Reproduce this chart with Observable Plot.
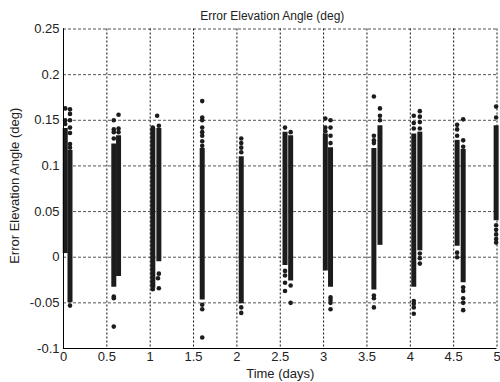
<!DOCTYPE html>
<html>
<head>
<meta charset="utf-8">
<script src="https://cdn.jsdelivr.net/npm/d3@7"></script>
<script src="https://cdn.jsdelivr.net/npm/@observablehq/plot@0.6"></script>
<style>
  html, body { margin: 0; padding: 0; background: #fff; }
  #chart svg { display: block; }
</style>
</head>
<body>
<div id="chart"></div>
<script>
// ---- Data ----
const titleText = "Error Elevation Angle (deg)";
const xLabelText = "Time (days)";
const yLabelText = "Error Elevation Angle (deg)";

const xTicks = [0, 0.5, 1, 1.5, 2, 2.5, 3, 3.5, 4, 4.5, 5];
const xTickLabels = ["0", "0.5", "1", "1.5", "2", "2.5", "3", "3.5", "4", "4.5", "5"];
const yTicks = [-0.1, -0.05, 0, 0.05, 0.1, 0.15, 0.2, 0.25];
const yTickLabels = ["-0.1", "-0.05", "0", "0.05", "0.1", "0.15", "0.2", "0.25"];

// dense columns of samples: time position, lowest and highest value of the solid run
const colX  = [0.02, 0.075, 0.58, 0.635, 1.03, 1.10, 1.60, 2.05, 2.555, 2.62, 3.02, 3.08, 3.58, 3.65, 4.04, 4.11, 4.54, 4.61, 4.99];
const colLo = [0.004, -0.050, -0.033, -0.021, -0.034, -0.005, -0.047, -0.051, -0.009, -0.026, -0.015, -0.033, -0.036, 0.013, -0.033, 0.007, 0.012, -0.028, 0.040];
const colHi = [0.141, 0.117, 0.124, 0.133, 0.141, 0.141, 0.119, 0.110, 0.137, 0.133, 0.135, 0.120, 0.119, 0.144, 0.135, 0.137, 0.128, 0.118, 0.144];

// isolated samples outside the solid runs
const outX = [
  0.02, 0.02, 0.02,
  0.075, 0.075, 0.075, 0.075, 0.075, 0.075, 0.075, 0.075,
  0.58, 0.58, 0.58, 0.58, 0.58, 0.58, 0.58,
  0.635, 0.635, 0.635,
  1.08, 1.03, 1.10, 1.10, 1.09, 1.10, 1.03,
  1.60, 1.60, 1.60, 1.60, 1.60, 1.60, 1.60, 1.60, 1.60, 1.60, 1.60,
  2.05, 2.05, 2.05, 2.05, 2.05, 2.05,
  2.555, 2.555, 2.555, 2.555, 2.555,
  2.62, 2.62, 2.62,
  3.02, 3.02, 3.02,
  3.08, 3.08, 3.08, 3.08, 3.08, 3.08, 3.08, 3.08,
  3.58, 3.58, 3.58, 3.58, 3.58, 3.58, 3.58,
  3.65, 3.65, 3.65,
  4.04, 4.04, 4.04, 4.04, 4.04, 4.04, 4.04,
  4.11, 4.11, 4.11, 4.11, 4.11, 4.11, 4.11,
  4.54, 4.54, 4.54, 4.54, 4.54,
  4.61, 4.61, 4.61, 4.61, 4.61, 4.61, 4.61, 4.61,
  4.99, 4.99, 4.99, 4.99, 4.99, 4.99, 4.99
];
const outY = [
  0.163, 0.150, 0.146,
  0.162, 0.157, 0.150, 0.142, 0.136, 0.124, 0.120, -0.053,
  0.150, 0.140, 0.137, 0.130, -0.045, -0.043, -0.076,
  0.156, 0.141, 0.137,
  0.155, 0.142, 0.144, -0.018, -0.023, -0.034, -0.035,
  0.171, 0.153, 0.150, 0.142, 0.137, 0.133, 0.127, 0.122, -0.052, -0.057, -0.088,
  0.130, 0.125, 0.120, 0.115, -0.055, -0.061,
  0.142, -0.015, -0.020, -0.028, -0.037,
  0.137, -0.031, -0.050,
  0.152, 0.142, 0.138,
  0.150, 0.142, 0.133, 0.125, -0.044, -0.047, -0.050, -0.057,
  0.176, 0.133, 0.128, 0.125, -0.042, -0.045, -0.055,
  0.163, 0.155, 0.150,
  0.155, 0.147, 0.141, -0.048, -0.051, -0.055, -0.062,
  0.160, 0.154, 0.148, 0.141, 0.004, -0.001, -0.007,
  0.145, 0.140, 0.133, 0.005, 0.000,
  0.151, 0.128, 0.121, -0.033, -0.037, -0.045, -0.050, -0.058,
  0.165, 0.153, 0.035, 0.030, 0.025, 0.020, 0.016
];

// ---- Build tables ----
const columns = colX.map((x, i) => ({x, lo: colLo[i], hi: colHi[i]}));
const outliers = outX.map((x, i) => ({x, y: outY[i]}));
const xLab = new Map(xTicks.map((t, i) => [t, xTickLabels[i]]));
const yLab = new Map(yTicks.map((t, i) => [t, yTickLabels[i]]));

const ink = "#1c1c1c";

const chart = Plot.plot({
  width: 500,
  height: 382,
  marginLeft: 63,
  marginRight: 3.5,
  marginTop: 28.5,
  marginBottom: 34,
  style: {fontFamily: "'Liberation Sans', Arial, sans-serif", fontSize: "13px", color: "#222", background: "#fff"},
  x: {domain: [0, 5]},
  y: {domain: [-0.1, 0.25]},
  marks: [
    // dashed grid
    Plot.ruleY(yTicks, {stroke: "#555", strokeWidth: 1, strokeDasharray: "3,2"}),
    Plot.ruleX(xTicks, {stroke: "#111", strokeWidth: 1, strokeDasharray: "2,2"}),
    // data
    Plot.ruleX(columns, {x: "x", y1: "lo", y2: "hi", stroke: ink, strokeWidth: 5}),
    Plot.dot(outliers, {x: "x", y: "y", r: 2.3, fill: ink, stroke: "none"}),
    // axis lines
    Plot.ruleX([0], {stroke: "#000", strokeWidth: 1}),
    Plot.ruleY([-0.1], {stroke: "#000", strokeWidth: 1}),
    // tick labels
    Plot.axisX({ticks: xTicks, tickSize: 0, tickPadding: 3, tickFormat: d => xLab.get(d), label: null, fontSize: 13}),
    Plot.axisY({ticks: yTicks, tickSize: 0, tickPadding: 4, tickFormat: d => yLab.get(d), label: null, fontSize: 13}),
    // titles
    Plot.text([titleText], {frameAnchor: "top", dx: -8, dy: -12.5, lineAnchor: "middle", textAnchor: "middle", fontSize: 12, fill: "#222"}),
    Plot.text([xLabelText], {frameAnchor: "bottom", dy: 25, lineAnchor: "middle", textAnchor: "middle", fontSize: 13, fill: "#222"}),
    Plot.text([yLabelText], {frameAnchor: "left", dx: -49, dy: -3, rotate: -90, lineAnchor: "middle", textAnchor: "middle", fontSize: 13, fill: "#222"})
  ]
});
document.getElementById("chart").appendChild(chart);
</script>
</body>
</html>
